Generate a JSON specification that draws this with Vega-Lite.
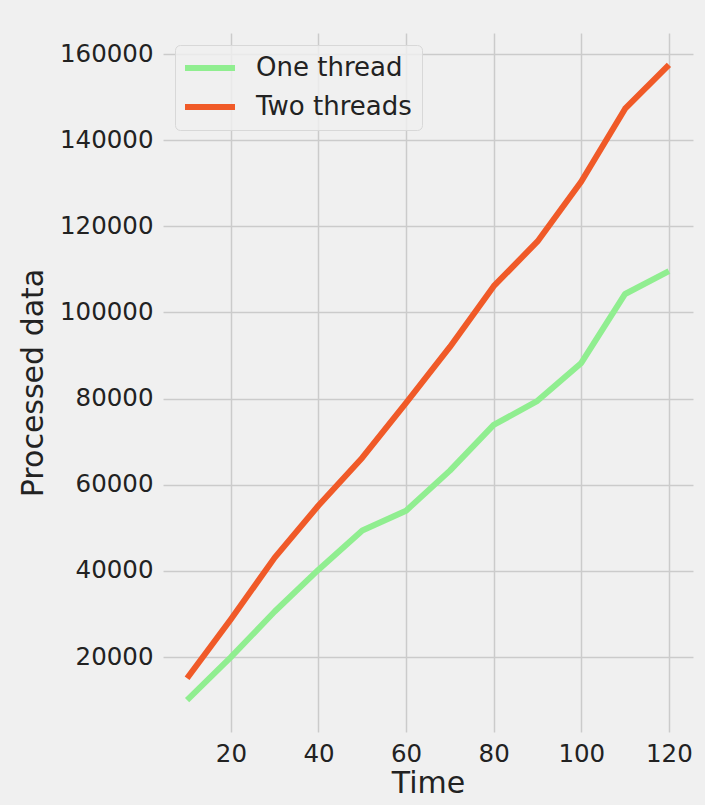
{
  "$schema": "https://vega.github.io/schema/vega-lite/v6.json",
  "width": 530,
  "height": 699,
  "autosize": {"type": "none"},
  "padding": {"left": 163, "top": 33, "right": 12, "bottom": 73},
  "background": "#f0f0f0",
  "data": {
    "values": [
      {"time": 10, "series": "One thread", "value": 10000},
      {"time": 20, "series": "One thread", "value": 20000},
      {"time": 30, "series": "One thread", "value": 30600},
      {"time": 40, "series": "One thread", "value": 40300},
      {"time": 50, "series": "One thread", "value": 49400},
      {"time": 60, "series": "One thread", "value": 54000},
      {"time": 70, "series": "One thread", "value": 63300},
      {"time": 80, "series": "One thread", "value": 73900},
      {"time": 90, "series": "One thread", "value": 79500},
      {"time": 100, "series": "One thread", "value": 88300},
      {"time": 110, "series": "One thread", "value": 104300},
      {"time": 120, "series": "One thread", "value": 109600},
      {"time": 10, "series": "Two threads", "value": 15100},
      {"time": 20, "series": "Two threads", "value": 28800},
      {"time": 30, "series": "Two threads", "value": 43100},
      {"time": 40, "series": "Two threads", "value": 55200},
      {"time": 50, "series": "Two threads", "value": 66300},
      {"time": 60, "series": "Two threads", "value": 79000},
      {"time": 70, "series": "Two threads", "value": 92000},
      {"time": 80, "series": "Two threads", "value": 106100},
      {"time": 90, "series": "Two threads", "value": 116500},
      {"time": 100, "series": "Two threads", "value": 130400},
      {"time": 110, "series": "Two threads", "value": 147300},
      {"time": 120, "series": "Two threads", "value": 157500}
    ]
  },
  "mark": {"type": "line", "strokeWidth": 6, "strokeCap": "butt", "strokeJoin": "round"},
  "encoding": {
    "x": {
      "field": "time",
      "type": "quantitative",
      "title": "Time",
      "scale": {"domain": [4.5, 125.5], "nice": false, "zero": false},
      "axis": {"values": [20, 40, 60, 80, 100, 120]}
    },
    "y": {
      "field": "value",
      "type": "quantitative",
      "title": "Processed data",
      "scale": {"domain": [2625, 164875], "nice": false, "zero": false},
      "axis": {"values": [20000, 40000, 60000, 80000, 100000, 120000, 140000, 160000], "format": "d"}
    },
    "color": {
      "field": "series",
      "type": "nominal",
      "title": null,
      "scale": {"domain": ["One thread", "Two threads"], "range": ["#90ee90", "#f05a28"]},
      "legend": {
        "orient": "top-left",
        "offset": 12,
        "symbolType": "M-2.5,0H2.5",
        "symbolSize": 400,
        "symbolStrokeWidth": 6,
        "symbolOffset": 12,
        "labelFontSize": 26,
        "labelFont": "DejaVu Sans",
        "labelColor": "#222222",
        "padding": 10,
        "rowPadding": 13,
        "labelOffset": 33,
        "fillColor": "rgba(240,240,240,0.8)",
        "strokeColor": "#d8d8d8",
        "cornerRadius": 5
      }
    }
  },
  "config": {
    "view": {"stroke": null, "fill": "#f0f0f0"},
    "font": "DejaVu Sans",
    "axis": {
      "domain": false,
      "ticks": false,
      "grid": true,
      "gridColor": "#cbcbcb",
      "gridWidth": 1.5,
      "labelFont": "DejaVu Sans",
      "labelFontSize": 24.5,
      "labelColor": "#222222",
      "labelPadding": 10,
      "titleFont": "DejaVu Sans",
      "titleFontSize": 30,
      "titleFontWeight": "normal",
      "titleColor": "#222222"
    },
    "axisX": {"titlePadding": 3},
    "axisY": {"titlePadding": 11}
  }
}
